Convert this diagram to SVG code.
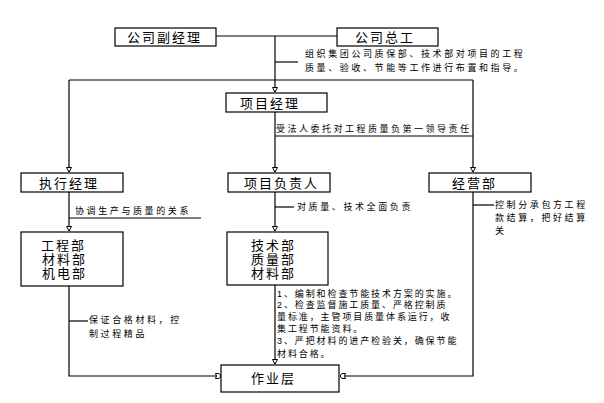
<svg xmlns="http://www.w3.org/2000/svg" width="604" height="403" viewBox="0 0 604 403">
<defs>
<marker id="ad" markerWidth="8" markerHeight="8" refX="3" refY="5" orient="0" markerUnits="userSpaceOnUse">
<path d="M0.5,0.5 L5.5,0.5 L3,5 Z" fill="#fff" stroke="#000" stroke-width="1"/>
</marker>
<marker id="ar" markerWidth="10" markerHeight="8" refX="6" refY="3.5" orient="0" markerUnits="userSpaceOnUse">
<path d="M0.5,1 L4,1 L6,3.5 L4,6 L0.5,6 L1.5,3.5 Z" fill="#fff" stroke="#000" stroke-width="1"/>
</marker>
<marker id="al" markerWidth="10" markerHeight="8" refX="0" refY="3.5" orient="0" markerUnits="userSpaceOnUse">
<path d="M5.5,1 L2,1 L0,3.5 L2,6 L5.5,6 L4.5,3.5 Z" fill="#fff" stroke="#000" stroke-width="1"/>
</marker>
</defs>
<style>
.box{fill:#fff;stroke:#000;stroke-width:1.2}
.lbl{font-family:"Liberation Sans","Noto Sans CJK SC",sans-serif;font-size:13px;letter-spacing:2px;fill:#000}
.note{font-family:"Liberation Sans","Noto Sans CJK SC",sans-serif;font-size:9px;letter-spacing:2.6px;fill:#000}
.ln{fill:none;stroke:#000;stroke-width:1.2}
</style>
<rect width="604" height="403" fill="#fff"/>
<g id="connectors">
<path class="ln" d="M216,36 H337"/>
<path class="ln" d="M275,36 V92" marker-end="url(#ad)"/>
<path class="ln" d="M275,62 H298"/>
<path class="ln" d="M69,80 H473"/>
<path class="ln" d="M69,80 V172" marker-end="url(#ad)"/>
<path class="ln" d="M473,80 V172" marker-end="url(#ad)"/>
<path class="ln" d="M275,112 V172" marker-end="url(#ad)"/>
<path class="ln" d="M275,136 H473"/>
<path class="ln" d="M69,192 V231" marker-end="url(#ad)"/>
<path class="ln" d="M69,218 H201"/>
<path class="ln" d="M275,192 V231" marker-end="url(#ad)"/>
<path class="ln" d="M275,207 H294"/>
<path class="ln" d="M473,192 V376 H340" marker-end="url(#al)"/>
<path class="ln" d="M473,205 H494"/>
<path class="ln" d="M69,286 V376 H221" marker-end="url(#ar)"/>
<path class="ln" d="M69,321 H88"/>
<path class="ln" d="M275,285 V364" marker-end="url(#ad)"/>
</g>
<g id="fgjl"><rect class="box" x="115" y="28" width="101" height="18"/><text class="lbl" x="127" y="42">公司副经理</text></g>
<g id="gszg"><rect class="box" x="337" y="28" width="101" height="18"/><text class="lbl" x="355" y="42">公司总工</text></g>
<g id="note1"><text class="note" x="305" y="57">组织集团公司质保部、技术部对项目的工程</text><text class="note" x="305" y="71">质量、验收、节能等工作进行布置和指导。</text></g>
<g id="xmjl"><rect class="box" x="226" y="93" width="101" height="19"/><text class="lbl" x="240" y="108">项目经理</text></g>
<g id="note2"><text class="note" x="276" y="132" style="letter-spacing:2.5px">受法人委托对工程质量负第一领导责任</text></g>
<g id="zxjl"><rect class="box" x="21" y="173" width="102" height="19"/><text class="lbl" x="39" y="188">执行经理</text></g>
<g id="xmfzr"><rect class="box" x="228" y="173" width="102" height="19"/><text class="lbl" x="244" y="188">项目负责人</text></g>
<g id="jyb"><rect class="box" x="429" y="173" width="102" height="19"/><text class="lbl" x="452" y="188">经营部</text></g>
<g id="note3"><text class="note" x="75" y="214">协调生产与质量的关系</text></g>
<g id="note4"><text class="note" x="297" y="210">对质量、技术全面负责</text></g>
<g id="note5"><text class="note" x="495" y="208">控制分承包方工程</text><text class="note" x="495" y="221">款结算，把好结算</text><text class="note" x="495" y="234">关</text></g>
<g id="gcb"><rect class="box" x="21" y="232" width="102" height="54"/><text class="lbl" x="41" y="250">工程部</text><text class="lbl" x="42" y="264">材料部</text><text class="lbl" x="42" y="278">机电部</text></g>
<g id="jsb"><rect class="box" x="227" y="232" width="101" height="53"/><text class="lbl" x="251" y="250">技术部</text><text class="lbl" x="251" y="264">质量部</text><text class="lbl" x="251" y="278">材料部</text></g>
<g id="note6"><text class="note" x="89" y="323">保证合格材料，控</text><text class="note" x="89" y="337">制过程精品</text></g>
<g id="note7">
<text class="note" x="277" y="297" style="letter-spacing:1.9px">1、编制和检查节能技术方案的实施。</text>
<text class="note" x="277" y="308" style="letter-spacing:1.9px">2、检查监督施工质量、严格控制质</text>
<text class="note" x="277" y="320" style="letter-spacing:1.9px">量标准，主管项目质量体系运行，收</text>
<text class="note" x="277" y="332" style="letter-spacing:1.9px">集工程节能资料。</text>
<text class="note" x="277" y="344" style="letter-spacing:1.9px">3、严把材料的进产检验关，确保节能</text>
<text class="note" x="277" y="357" style="letter-spacing:1.9px">材料合格。</text>
</g>
<g id="zyc"><rect class="box" x="221" y="365" width="118" height="27"/><text class="lbl" x="251" y="383">作业层</text></g>
</svg>
